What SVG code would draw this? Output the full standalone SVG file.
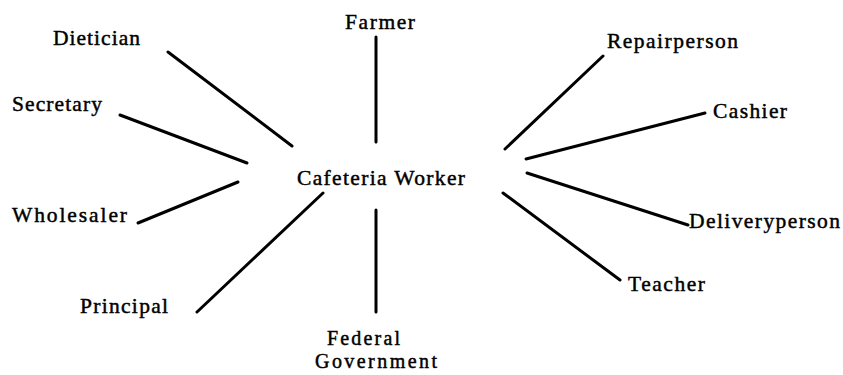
<svg xmlns="http://www.w3.org/2000/svg" width="843" height="375" viewBox="0 0 843 375">
<style>
text{font-family:"Liberation Serif","Times New Roman",serif;font-size:21.5px;fill:#000;stroke:#000;stroke-width:0.45}
.c line{stroke:#000;stroke-width:3;stroke-linecap:round}
.s{font-size:20px}
</style>
<rect width="843" height="375" fill="#fff"/>
<g class="c" id="connectors">
<line x1="168" y1="52" x2="292" y2="146"/>
<line x1="120" y1="115" x2="247" y2="163"/>
<line x1="376" y1="37" x2="376" y2="142"/>
<line x1="603" y1="56" x2="505" y2="149"/>
<line x1="705" y1="113" x2="526" y2="159"/>
<line x1="527" y1="173" x2="688" y2="225"/>
<line x1="503" y1="193" x2="620" y2="280"/>
<line x1="138" y1="223" x2="238" y2="182"/>
<line x1="197" y1="312" x2="323" y2="193"/>
<line x1="376" y1="210" x2="376" y2="312"/>
</g>
<g id="center"><text x="297" y="185" textLength="168" lengthAdjust="spacing">Cafeteria Worker</text></g>
<g id="dietician"><text x="53" y="45" textLength="87" lengthAdjust="spacing">Dietician</text></g>
<g id="secretary"><text x="12" y="111" textLength="90" lengthAdjust="spacing">Secretary</text></g>
<g id="farmer"><text x="345" y="29" textLength="70" lengthAdjust="spacing">Farmer</text></g>
<g id="repairperson"><text x="607" y="48" textLength="131" lengthAdjust="spacing">Repairperson</text></g>
<g id="cashier"><text x="713" y="118" textLength="74" lengthAdjust="spacing">Cashier</text></g>
<g id="deliveryperson"><text x="689" y="228" textLength="151" lengthAdjust="spacing">Deliveryperson</text></g>
<g id="teacher"><text x="628" y="291" textLength="77" lengthAdjust="spacing">Teacher</text></g>
<g id="wholesaler"><text x="12" y="222" textLength="115" lengthAdjust="spacing">Wholesaler</text></g>
<g id="principal"><text x="80" y="313" textLength="88" lengthAdjust="spacing">Principal</text></g>
<g id="federal"><text class="s" x="327" y="345" textLength="73" lengthAdjust="spacing">Federal</text><text class="s" x="315" y="368" textLength="122" lengthAdjust="spacing">Government</text></g>
</svg>
